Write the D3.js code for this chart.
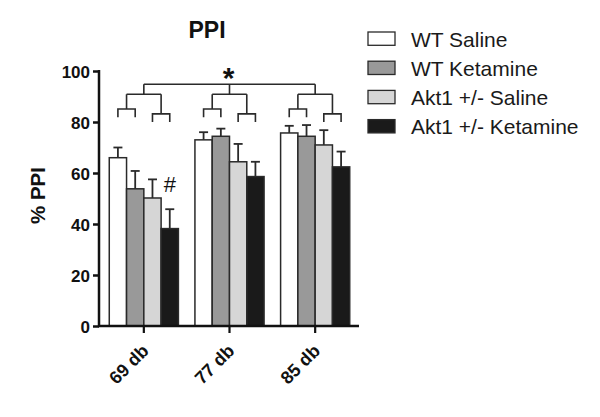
<!DOCTYPE html>
<html><head><meta charset="utf-8">
<script src="https://cdn.jsdelivr.net/npm/d3@7"></script>
<style>body{margin:0;background:#fff}svg{display:block}text{font-family:"Liberation Sans",Arial,sans-serif}</style>
</head><body><svg id="c" width="600" height="417"></svg>
<script>
const categories = ["69 db", "77 db", "85 db"];
const seriesNames = ["WT Saline", "WT Ketamine", "Akt1 +/- Saline", "Akt1 +/- Ketamine"];
const seriesColors = ["#ffffff", "#999999", "#d6d6d6", "#1a1a1a"];
const wtSaline = [66, 73, 75.7];
const wtKetamine = [53.8, 74.4, 74.4];
const aktSaline = [50.2, 64.4, 71];
const aktKetamine = [38.2, 58.6, 62.4];
const wtSalineSem = [4, 3, 2.8];
const wtKetamineSem = [7, 3, 4.4];
const aktSalineSem = [7.3, 7, 5.8];
const aktKetamineSem = [7.6, 5.8, 6];
const yTicks = [0, 20, 40, 60, 80, 100];
// bracket levels (in % PPI units)
const bracketTop = 94.8, bracketMid = 90.9, bracketLowA = 85.1, bracketLowB = 83.2, bracketDrop = 3.2;

const values = [wtSaline, wtKetamine, aktSaline, aktKetamine];
const sems = [wtSalineSem, wtKetamineSem, aktSalineSem, aktKetamineSem];

const svg = d3.select("#c");
const axisX = 99, baseY = 326, topY = 71, rightX = 358;
const y = d3.scaleLinear().domain([0, 100]).range([baseY, topY]);
const x0 = d3.scaleBand().domain(categories).range([101, rightX]).paddingInner(0.193).paddingOuter(0.0965);
const x1 = d3.scaleBand().domain(seriesNames).range([0, x0.bandwidth()]);
const ink = "#2a2a2a";

// bars
categories.forEach((c, ci) => {
  seriesNames.forEach((s, si) => {
    const v = values[si][ci], e = sems[si][ci];
    const bx = x0(c) + x1(s), bw = x1.bandwidth(), cx = bx + bw / 2;
    svg.append("line").attr("x1", cx).attr("x2", cx).attr("y1", y(v)).attr("y2", y(v + e)).attr("stroke", ink).attr("stroke-width", 1.8);
    svg.append("line").attr("x1", cx - 4.5).attr("x2", cx + 4.5).attr("y1", y(v + e)).attr("y2", y(v + e)).attr("stroke", ink).attr("stroke-width", 1.8);
    svg.append("rect").attr("x", bx).attr("y", y(v)).attr("width", bw).attr("height", baseY - y(v))
      .attr("fill", seriesColors[si]).attr("stroke", ink).attr("stroke-width", 1.5);
  });
});

// axes
const yAxis = d3.axisLeft(y).tickValues(yTicks).tickSize(6).tickPadding(3);
const gy = svg.append("g").attr("transform", `translate(${axisX},0)`).call(yAxis);
gy.select(".domain").attr("d", `M0,${baseY + 1}V${topY - 1}`).attr("stroke", "#111").attr("stroke-width", 2.5);
gy.selectAll(".tick line").attr("stroke", "#111").attr("stroke-width", 2.5);
gy.selectAll(".tick text").attr("font-size", 17).attr("font-weight", "bold").attr("fill", "#111").attr("dy", "0.36em");

const xAxis = d3.axisBottom(x0).tickSize(7).tickSizeOuter(0);
const gx = svg.append("g").attr("transform", `translate(0,${baseY})`).call(xAxis);
gx.select(".domain").attr("d", `M${axisX - 1},0H${rightX + 1}`).attr("stroke", "#111").attr("stroke-width", 2.5);
gx.selectAll(".tick line").attr("stroke", "#111").attr("stroke-width", 2.2);
gx.selectAll(".tick text").attr("font-size", 18).attr("font-weight", "bold").attr("fill", "#111")
  .attr("text-anchor", "end").attr("dy", 0).attr("y", 0)
  .attr("transform", "translate(6,26) rotate(-45)");

// brackets
const centers = categories.map(c => x0(c) + x0.bandwidth() / 2);
const bc = (c, s) => x0(c) + x1(s) + x1.bandwidth() / 2;
const bl = svg.append("g").attr("stroke", ink).attr("stroke-width", 1.6).attr("fill", "none");
bl.append("path").attr("d", `M${centers[0]},${y(bracketTop)}H${centers[2]}`);
categories.forEach((c, ci) => {
  const a = (bc(c, seriesNames[0]) + bc(c, seriesNames[1])) / 2;
  const b = (bc(c, seriesNames[2]) + bc(c, seriesNames[3])) / 2;
  bl.append("path").attr("d", `M${centers[ci]},${y(bracketTop)}V${y(bracketMid)}M${a},${y(bracketMid)}H${b}` +
    `M${a},${y(bracketMid)}V${y(bracketLowA)}M${b},${y(bracketMid)}V${y(bracketLowB)}`);
  bl.append("path").attr("d", `M${bc(c, seriesNames[0])},${y(bracketLowA - bracketDrop)}V${y(bracketLowA)}H${bc(c, seriesNames[1])}V${y(bracketLowA - bracketDrop)}`);
  bl.append("path").attr("d", `M${bc(c, seriesNames[2])},${y(bracketLowB - bracketDrop)}V${y(bracketLowB)}H${bc(c, seriesNames[3])}V${y(bracketLowB - bracketDrop)}`);
});
svg.append("text").attr("x", centers[1] - 1).attr("y", y(bracketTop) + 4).attr("text-anchor", "middle")
  .attr("font-size", 30).attr("font-weight", "bold").attr("fill", "#111").text("*");
svg.append("text").attr("x", bc(categories[0], seriesNames[3])).attr("y", y(aktKetamine[0] + aktKetamineSem[0]) - 17)
  .attr("text-anchor", "middle").attr("font-size", 22).attr("fill", "#111").text("#");

// title & y label
svg.append("text").attr("x", 207).attr("y", 38).attr("text-anchor", "middle").attr("font-size", 23).attr("font-weight", "bold").attr("fill", "#111").text("PPI");
svg.append("text").attr("transform", `translate(45,${(baseY + topY) / 2 - 3}) rotate(-90)`).attr("text-anchor", "middle")
  .attr("font-size", 20.5).attr("font-weight", "bold").attr("fill", "#111").text("% PPI");

// legend
const lg = svg.append("g").attr("transform", "translate(368,32)");
seriesNames.forEach((s, i) => {
  const g = lg.append("g").attr("transform", `translate(0,${i * 29.2})`);
  g.append("rect").attr("width", 27).attr("height", 13.3).attr("fill", seriesColors[i]).attr("stroke", ink).attr("stroke-width", 1.3);
  g.append("text").attr("x", 43).attr("y", 14.5).attr("font-size", 21).attr("fill", "#1a1a1a").text(s);
});
</script></body></html>
